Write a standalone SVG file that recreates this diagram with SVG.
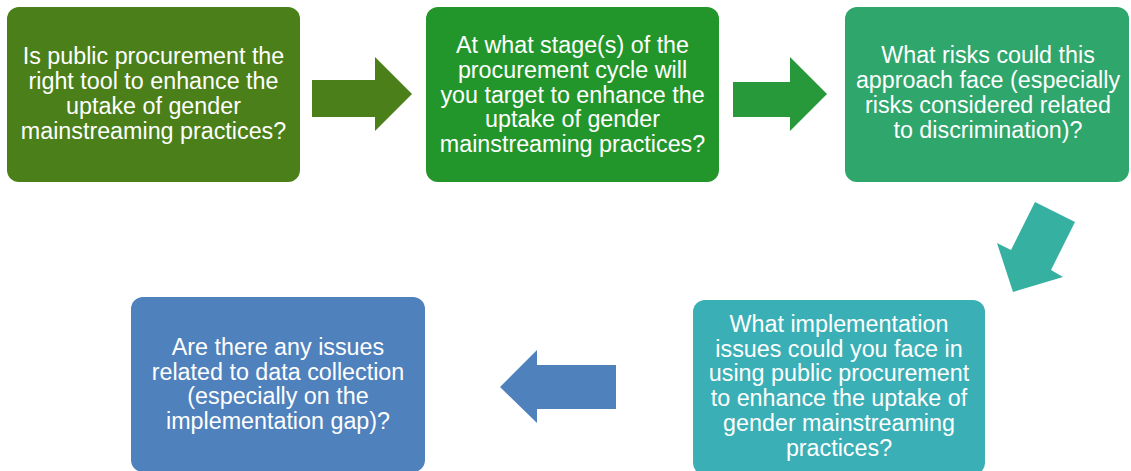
<svg xmlns="http://www.w3.org/2000/svg" width="1131" height="471" viewBox="0 0 1131 471">
<style>
.t{font-family:"Liberation Sans",Arial,sans-serif;font-size:23.3px;fill:#ffffff;text-anchor:middle}
</style>
<rect width="1131" height="471" fill="#ffffff"/>
<g id="connectors">
<polygon points="312,80 375,80 375,57 412,94 375,131 375,117 312,117" fill="#4a7f19"/>
<polygon points="733,82 790,82 790,57 827,94 790,131 790,117 733,117" fill="#27993a"/>
<polygon points="1035,202 1075,222 1051,270 1063,277 1013,292 997,243 1011,250" fill="#36b0a0"/>
<polygon points="616,365 537,365 537,350 500,387 537,423 537,409 616,409" fill="#4f81bd"/>
</g>
<g id="node1">
<rect x="7" y="7" width="293" height="175" rx="12" fill="#4a7f19"/>
<text class="t" x="153.5" y="64">Is public procurement the</text>
<text class="t" x="153.5" y="89">right tool to enhance the</text>
<text class="t" x="153.5" y="114">uptake of gender</text>
<text class="t" x="153.5" y="139">mainstreaming practices?</text>
</g>
<g id="node2">
<rect x="426" y="7" width="293" height="175" rx="12" fill="#23962b"/>
<text class="t" x="572.5" y="53">At what stage(s) of the</text>
<text class="t" x="572.5" y="78">procurement cycle will</text>
<text class="t" x="572.5" y="103">you target to enhance the</text>
<text class="t" x="572.5" y="127">uptake of gender</text>
<text class="t" x="572.5" y="152">mainstreaming practices?</text>
</g>
<g id="node3">
<rect x="845" y="7" width="284" height="175" rx="12" fill="#2ea66c"/>
<text class="t" x="988" y="63">What risks could this</text>
<text class="t" x="988" y="88">approach face (especially</text>
<text class="t" x="988" y="113">risks considered related</text>
<text class="t" x="988" y="138">to discrimination)?</text>
</g>
<g id="node4">
<rect x="693" y="300" width="292" height="175" rx="12" fill="#3aafb5"/>
<text class="t" x="839" y="332">What implementation</text>
<text class="t" x="839" y="357">issues could you face in</text>
<text class="t" x="839" y="381">using public procurement</text>
<text class="t" x="839" y="406">to enhance the uptake of</text>
<text class="t" x="839" y="431">gender mainstreaming</text>
<text class="t" x="839" y="456">practices?</text>
</g>
<g id="node5">
<rect x="131" y="297" width="294" height="175" rx="12" fill="#4f81bd"/>
<text class="t" x="278" y="355">Are there any issues</text>
<text class="t" x="278" y="380">related to data collection</text>
<text class="t" x="278" y="404">(especially on the</text>
<text class="t" x="278" y="429">implementation gap)?</text>
</g>
</svg>
